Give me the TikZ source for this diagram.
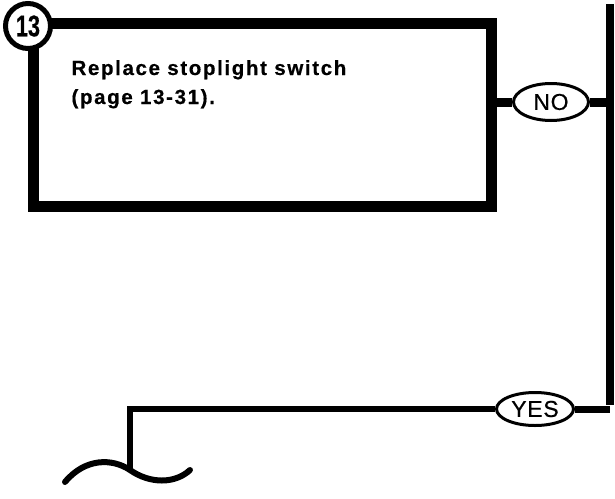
\documentclass[tikz,border=0pt]{standalone}
\usepackage{fontspec}
\usepackage{graphicx}
\setmainfont{Liberation Sans}
\usetikzlibrary{shapes.geometric}
\begin{document}
\begin{tikzpicture}[x=1pt,y=-1pt,
  stepbox/.style={draw=black,line width=11pt,rectangle,minimum width=458.5pt,minimum height=183pt,inner sep=0pt},
  numcircle/.style={draw=black,fill=white,line width=5pt,circle,minimum size=45pt,inner sep=0pt},
  answer/.style={draw=black,fill=white,line width=3pt,ellipse,inner sep=0pt,
    font={\fontsize{23}{23}\selectfont\addfontfeature{LetterSpace=3,FakeBold=0.6}}},
  wire/.style={line width=#1,line cap=butt},
]
\useasboundingbox (0,0) rectangle (615,498);
\node[stepbox] (box) at (262.25,115) {};
\node[numcircle] (num) at (28,26) {\scalebox{0.72}[1]{\fontsize{30}{30}\selectfont\bfseries\addfontfeature{FakeBold=0.5}13}};
\node[anchor=base west,align=left,font={\fontsize{20.5}{29}\selectfont\bfseries\addfontfeature{LetterSpace=8,FakeBold=0.5}}] (txt) at (68,104) {Replace stoplight switch\\(page 13-31).};
\node[answer,minimum width=75pt,minimum height=37pt] (no) at (551,102) {NO};
\node[answer,minimum width=77pt,minimum height=33pt] (yes) at (535,409) {YES};
\coordinate (rtop) at (610,0);
\coordinate (rcorner) at (610,409);
\coordinate (lcorner) at (130,409);
\coordinate (wjoin) at (130,470);
\coordinate (wleft) at (65,482);
\coordinate (wright) at (190,470);
\draw[wire=9pt] (no.west) -- (no.west -| box.east);
\draw[wire=9pt] (no.east) -- (no.east -| rtop);
\draw[wire=8pt] ([yshift=-4pt]rtop) -- ([yshift=4pt]rcorner);
\draw[wire=7pt] (yes.east) -- (rcorner);
\draw[wire=6pt] (yes.west) -- (lcorner) -- (wjoin);
\draw[line width=6pt,line cap=round] (wleft) .. controls (85,458) and (112,458) .. (wjoin) .. controls (150,484) and (175,484) .. (wright);
\end{tikzpicture}
\end{document}
